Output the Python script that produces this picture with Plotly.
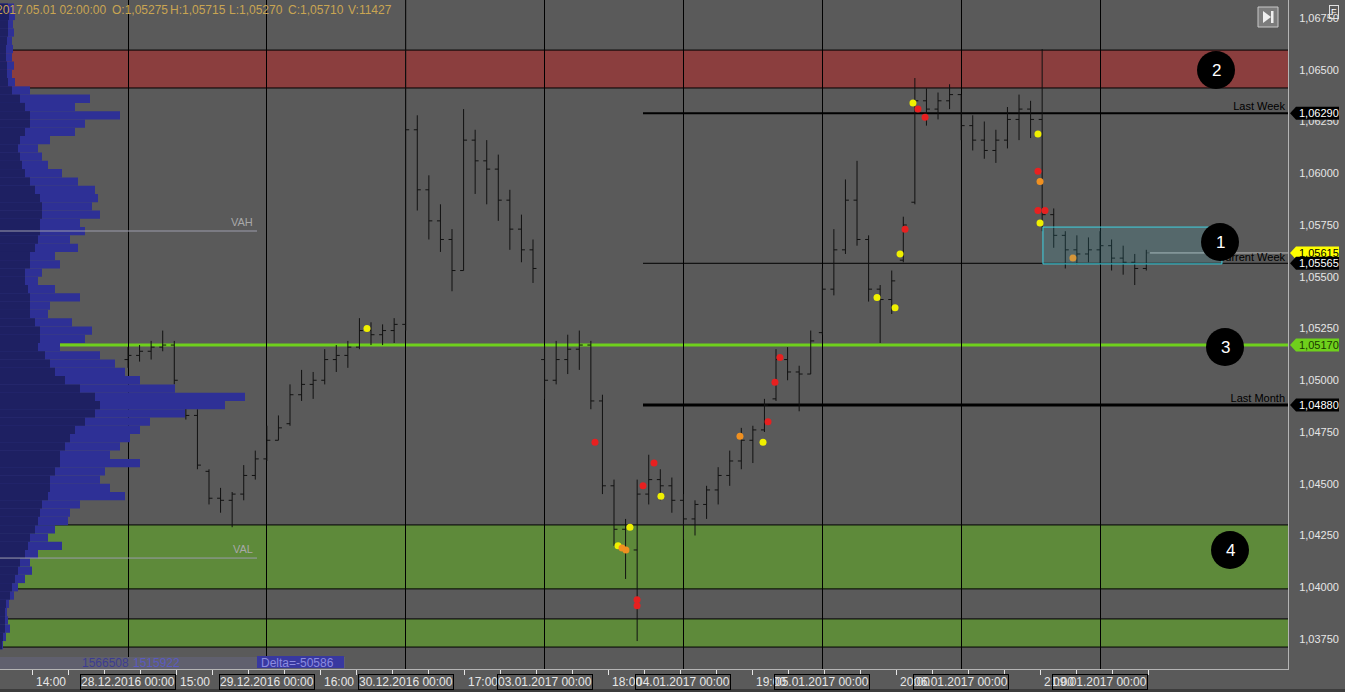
import plotly.graph_objects as go

# ---------------- data ----------------
day_labels = ["28.12.2016 00:00", "29.12.2016 00:00", "30.12.2016 00:00", "03.01.2017 00:00",
              "04.01.2017 00:00", "05.01.2017 00:00", "06.01.2017 00:00", "09.01.2017 00:00"]
hour_labels = ["14:00", "15:00", "16:00", "17:00", "18:00", "19:00", "20:00", "21:00"]

bar_open = [1.0510, 1.0512, 1.0514, 1.0516, 1.0517, 1.0490, 1.0483, 1.0456, 1.0443, 1.0442, 1.0445, 1.0454,
            1.0462, 1.0471, 1.0479, 1.0493, 1.0498, 1.0500, 1.0510, 1.0512, 1.0516, 1.0524, 1.0522, 1.0524,
            1.0527, 1.0621, 1.0592, 1.0577, 1.0568, 1.0553, 1.0616, 1.0606, 1.0602, 1.0587, 1.0573, 1.0563,
            1.0510, 1.0500, 1.0510, 1.0515, 1.0517, 1.0490, 1.0449, 1.0428, 1.0418, 1.0445, 1.0452, 1.0449,
            1.0442, 1.0433, 1.0440, 1.0447, 1.0454, 1.0461, 1.0471, 1.0476, 1.0491, 1.0510, 1.0504, 1.0503,
            1.0523, 1.0544, 1.0563, 1.0587, 1.0568, 1.0544, 1.0539, 1.0558, 1.0586, 1.0635, 1.0631, 1.0635,
            1.0638, 1.0623, 1.0616, 1.0611, 1.0616, 1.0626, 1.0631, 1.0626, 1.0580, 1.0570, 1.0563, 1.0561,
            1.0563, 1.0565, 1.0559, 1.0557, 1.0554]
bar_high = [1.0516, 1.0517, 1.0519, 1.0524, 1.0519, 1.0491, 1.0486, 1.0457, 1.0448, 1.0446, 1.0459, 1.0466,
            1.0478, 1.0483, 1.0498, 1.0505, 1.0504, 1.0515, 1.0517, 1.0519, 1.0530, 1.0528, 1.0527, 1.0530,
            1.0684, 1.0628, 1.0599, 1.0585, 1.0573, 1.0631, 1.0621, 1.0616, 1.0609, 1.0592, 1.0580, 1.0568,
            1.0517, 1.0519, 1.0522, 1.0524, 1.0519, 1.0493, 1.0452, 1.0433, 1.0452, 1.0464, 1.0457, 1.0453,
            1.0445, 1.0442, 1.0449, 1.0458, 1.0466, 1.0477, 1.0478, 1.0491, 1.0515, 1.0516, 1.0507, 1.0524,
            1.0554, 1.0573, 1.0597, 1.0606, 1.0570, 1.0546, 1.0553, 1.0579, 1.0646, 1.0641, 1.0639, 1.0643,
            1.0638, 1.0628, 1.0625, 1.0621, 1.0632, 1.0638, 1.0635, 1.0660, 1.0583, 1.0572, 1.0570, 1.0569,
            1.0572, 1.0568, 1.0565, 1.0561, 1.0563]
bar_low = [1.0506, 1.0509, 1.0510, 1.0514, 1.0498, 1.0481, 1.0457, 1.0440, 1.0436, 1.0429, 1.0442, 1.0452,
           1.0461, 1.0471, 1.0478, 1.0490, 1.0491, 1.0498, 1.0504, 1.0506, 1.0515, 1.0517, 1.0517, 1.0518,
           1.0524, 1.0582, 1.0568, 1.0562, 1.0543, 1.0553, 1.0590, 1.0585, 1.0577, 1.0563, 1.0557, 1.0547,
           1.0491, 1.0498, 1.0503, 1.0505, 1.0486, 1.0445, 1.0420, 1.0404, 1.0374, 1.0440, 1.0442, 1.0436,
           1.0423, 1.0425, 1.0433, 1.0440, 1.0449, 1.0457, 1.0460, 1.0475, 1.0490, 1.0500, 1.0485, 1.0503,
           1.0522, 1.0541, 1.0561, 1.0565, 1.0538, 1.0518, 1.0532, 1.0557, 1.0585, 1.0623, 1.0626, 1.0631,
           1.0616, 1.0611, 1.0607, 1.0605, 1.0612, 1.0616, 1.0617, 1.0572, 1.0564, 1.0554, 1.0556, 1.0557,
           1.0556, 1.0553, 1.0551, 1.0546, 1.0553]
bar_close = [1.0512, 1.0514, 1.0516, 1.0517, 1.0500, 1.0483, 1.0459, 1.0443, 1.0442, 1.0445, 1.0454, 1.0462,
             1.0471, 1.0477, 1.0493, 1.0498, 1.0500, 1.0510, 1.0512, 1.0516, 1.0524, 1.0522, 1.0524, 1.0527,
             1.0621, 1.0592, 1.0577, 1.0568, 1.0553, 1.0616, 1.0606, 1.0602, 1.0587, 1.0573, 1.0563, 1.0554,
             1.0500, 1.0510, 1.0515, 1.0517, 1.0490, 1.0449, 1.0428, 1.0418, 1.0445, 1.0452, 1.0449, 1.0442,
             1.0433, 1.0440, 1.0447, 1.0454, 1.0461, 1.0471, 1.0476, 1.0488, 1.0510, 1.0504, 1.0503, 1.0519,
             1.0544, 1.0563, 1.0587, 1.0568, 1.0544, 1.0539, 1.0548, 1.0575, 1.0635, 1.0631, 1.0635, 1.0638,
             1.0623, 1.0616, 1.0611, 1.0616, 1.0626, 1.0631, 1.0626, 1.0580, 1.0570, 1.0563, 1.0561, 1.0563,
             1.0565, 1.0559, 1.0557, 1.0554, 1.05615]
BARS_PER_DAY = 12
bar_x = [i / BARS_PER_DAY for i in range(len(bar_close))]

# footprint imbalance dots (day position, price, colour)
mk_day = [1.721, 3.363, 3.529, 3.558, 3.615, 3.586, 3.666, 3.666, 3.709, 3.788, 3.838, 4.407, 4.573, 4.609,
          4.659, 4.695, 5.394, 5.524, 5.560, 5.596, 5.653, 5.689, 5.740, 6.553, 6.553, 6.568, 6.553, 6.568,
          6.604, 6.805]
mk_price = [1.0525, 1.0470, 1.0420, 1.0419, 1.0429, 1.0418, 1.0394, 1.0391, 1.0449, 1.0460, 1.0444, 1.0473,
            1.0470, 1.0480, 1.0499, 1.0511, 1.0540, 1.0535, 1.0561, 1.0573, 1.0634, 1.0631, 1.0627, 1.0619,
            1.0601, 1.0596, 1.0582, 1.0576, 1.0582, 1.0559]
mk_kind = ["y", "r", "y", "o", "y", "o", "r", "r", "r", "r", "y", "o", "y", "r", "r", "r", "y", "y", "y", "r",
           "y", "r", "r", "y", "r", "o", "r", "y", "r", "o"]

# volume profile (price bins of 0.0004, widths in volume units)
profile_price = [round(1.0680 - 0.0004 * i, 4) for i in range(80)]
profile_total = [14, 15, 13, 14, 12, 13, 12, 14, 12, 15,
                 30, 90, 75, 120, 85, 75, 50, 38, 42, 48,
                 62, 78, 95, 98, 92, 100, 80, 85, 70, 78,
                 55, 60, 42, 38, 55, 80, 50, 48, 72, 92,
                 85, 60, 100, 115, 125, 140, 175, 245, 225, 185,
                 150, 140, 130, 120, 110, 140, 105, 100, 110, 125,
                 80, 70, 68, 55, 48, 62, 38, 30, 32, 25,
                 18, 14, 9, 7, 8, 10, 6, 3, 0, 0]
profile_inner = [8, 9, 8, 8, 7, 6, 6, 7, 7, 8,
                 12, 20, 25, 30, 30, 25, 20, 18, 20, 22,
                 25, 30, 35, 40, 42, 42, 40, 40, 38, 35,
                 30, 30, 25, 25, 28, 30, 30, 30, 35, 40,
                 40, 38, 45, 50, 55, 65, 80, 95, 100, 95,
                 85, 75, 70, 65, 60, 60, 55, 50, 50, 48,
                 42, 40, 38, 35, 30, 28, 25, 20, 18, 15,
                 12, 10, 6, 5, 5, 5, 3, 2, 0, 0]

# key levels
last_week = 1.06290
current_week = 1.05565
last_month = 1.04880
poc_level = 1.05170
last_price = 1.05615
vah = 1.05721
val = 1.04141
red_zone = (1.06412, 1.06595)
green_zone = (1.03992, 1.04301)
green_zone2 = (1.03711, 1.03847)
week_box = (6.589, 7.878, 1.05562, 1.05740)
header = [("2017.05.01 02:00:00", -6), ("O:1,05275", 110), ("H:1,05715", 168),
          ("L:1,05270", 227), ("C:1,05710", 286), ("V:11427", 346)]

# ---------------- geometry ----------------
W, H = 1345, 692
PW, PH = 1288, 669          # plot area in px
PX_DAY = 138.86
X0_PX = 128
XMIN = -X0_PX / PX_DAY
XMAX = (PW - X0_PX) / PX_DAY
YMAX = 1.06837
YMIN = 1.03605
FONT = "Liberation Sans, Arial, sans-serif"
BG = "#5a5a5a"


def xp(px):
    return px / PW


def ypp(py):
    return 1 - py / PH


def yprice(p):
    return (p - YMIN) / (YMAX - YMIN)


def day(px):
    return (px - X0_PX) / PX_DAY


fig = go.Figure()

# volume profile (overlay axis so bar lengths map to pixels)
fig.add_trace(go.Bar(y=profile_price, x=profile_total, orientation="h", width=0.0004,
                     marker=dict(color="#2e3096", line=dict(width=0)), xaxis="x2", yaxis="y",
                     hoverinfo="skip"))
fig.add_trace(go.Bar(y=profile_price, x=profile_inner, orientation="h", width=0.0004,
                     marker=dict(color="#1e2062", line=dict(width=0)), xaxis="x2", yaxis="y",
                     hoverinfo="skip"))

fig.add_trace(go.Ohlc(x=bar_x, open=bar_open, high=bar_high, low=bar_low, close=bar_close,
                      increasing=dict(line=dict(color="#111111", width=1)),
                      decreasing=dict(line=dict(color="#111111", width=1)),
                      tickwidth=0.3, hoverinfo="skip"))

cmap = {"y": "#f0f000", "o": "#f09020", "r": "#e82020"}
fig.add_trace(go.Scatter(x=mk_day, y=mk_price, mode="markers",
                         marker=dict(size=7, color=[cmap[k] for k in mk_kind], line=dict(width=0)),
                         hoverinfo="skip"))

# level labels as text traces (so circle shapes can cover them)
lbl_x = day(1285)
fig.add_trace(go.Scatter(x=[lbl_x, lbl_x, lbl_x], y=[last_week, current_week, last_month],
                         mode="text", text=["Last Week", "Current Week", "Last Month"],
                         textposition="top left", textfont=dict(family=FONT, size=11, color="#000000"),
                         hoverinfo="skip", cliponaxis=False))

shapes = []
# zones (below grid)
for (lo, hi), col in [(red_zone, "#8b3e3e"), (green_zone, "#5e8a3a"), (green_zone2, "#5e8a3a")]:
    shapes.append(dict(type="rect", xref="paper", yref="y", x0=0, x1=1, y0=lo, y1=hi,
                       fillcolor=col, line=dict(width=0), layer="below"))
    for v in (lo, hi):
        shapes.append(dict(type="line", xref="paper", yref="y", x0=0, x1=1, y0=v, y1=v,
                           line=dict(color="#000000", width=1), layer="between"))

# level lines
start = day(643)
shapes.append(dict(type="line", xref="x", yref="y", x0=start, x1=XMAX, y0=last_week, y1=last_week,
                   line=dict(color="#000000", width=2), layer="between"))
shapes.append(dict(type="line", xref="x", yref="y", x0=start, x1=XMAX, y0=current_week, y1=current_week,
                   line=dict(color="#000000", width=1), layer="between"))
shapes.append(dict(type="line", xref="x", yref="y", x0=start, x1=XMAX, y0=last_month, y1=last_month,
                   line=dict(color="#000000", width=3), layer="between"))
shapes.append(dict(type="line", xref="paper", yref="y", x0=0, x1=1, y0=poc_level, y1=poc_level,
                   line=dict(color="#6fd01c", width=3), layer="between"))
shapes.append(dict(type="line", xref="x", yref="y", x0=bar_x[-1], x1=XMAX, y0=last_price, y1=last_price,
                   line=dict(color="#b8b8b8", width=1), layer="between"))
# VAH / VAL
for v in (vah, val):
    shapes.append(dict(type="line", xref="paper", yref="y", x0=0, x1=xp(257), y0=v, y1=v,
                       line=dict(color="#9c9cac", width=1), layer="above"))
# current week box
shapes.append(dict(type="rect", xref="x", yref="y", x0=week_box[0], x1=week_box[1],
                   y0=week_box[2], y1=week_box[3], fillcolor="rgba(60,190,215,0.14)",
                   line=dict(color="#3fd3e3", width=1), layer="above"))

annotations = []
# numbered circles
for num, cx, cy in [("2", 1216, 70), ("1", 1220, 242), ("3", 1225, 347), ("4", 1230, 550)]:
    shapes.append(dict(type="circle", xref="paper", yref="paper", xsizemode="pixel", ysizemode="pixel",
                       xanchor=xp(cx), yanchor=ypp(cy), x0=-19, x1=19, y0=-19, y1=19,
                       fillcolor="#000000", line=dict(width=0), layer="above"))
    annotations.append(dict(xref="paper", yref="paper", x=xp(cx), y=ypp(cy), text=num, showarrow=False,
                            font=dict(family=FONT, size=17, color="#ffffff"), xanchor="center",
                            yanchor="middle"))


# price tags on the right axis
def tag(price, fill, tcolor):
    yc = yprice(price)
    h = 6.5 / PH
    xt, xl, xr = 1290 / PW, 1296 / PW, 1339 / PW
    shapes.append(dict(type="path", xref="paper", yref="paper",
                       path=f"M {xt},{yc} L {xl},{yc + h} L {xr},{yc + h} L {xr},{yc - h} L {xl},{yc - h} Z",
                       fillcolor=fill, line=dict(width=0), layer="above"))
    annotations.append(dict(xref="paper", yref="paper", x=1297 / PW, y=yc, xanchor="left", yanchor="middle",
                            text=f"{price:.5f}".replace(".", ","), showarrow=False,
                            font=dict(family=FONT, size=11, color=tcolor)))


tag(last_week, "#000000", "#ffffff")
tag(last_price, "#ffff00", "#000000")
tag(current_week, "#000000", "#ffffff")
tag(poc_level, "#6fd01c", "#1a3a00")
tag(last_month, "#000000", "#ffffff")

# VAH / VAL labels
annotations.append(dict(xref="paper", yref="y", x=xp(255), y=vah, yshift=9, text="VAH", showarrow=False,
                        xanchor="right", yanchor="middle", font=dict(family=FONT, size=11, color="#a8a8a8")))
annotations.append(dict(xref="paper", yref="y", x=xp(255), y=val, yshift=9, text="VAL", showarrow=False,
                        xanchor="right", yanchor="middle", font=dict(family=FONT, size=11, color="#a8a8a8")))

# header
for txt, px in header:
    annotations.append(dict(xref="paper", yref="paper", x=xp(px), y=ypp(10), text=txt, showarrow=False,
                            xanchor="left", yanchor="middle", font=dict(family=FONT, size=12, color="#c9a552")))

# bottom strip with volume numbers
shapes.append(dict(type="rect", xref="paper", yref="paper", x0=0, x1=xp(345), y0=0, y1=ypp(657),
                   fillcolor="#60606e", line=dict(width=0), layer="above"))
shapes.append(dict(type="rect", xref="paper", yref="paper", x0=xp(257), x1=xp(344), y0=ypp(668), y1=ypp(656),
                   fillcolor="#3838a0", line=dict(width=0), layer="above"))
annotations.append(dict(xref="paper", yref="paper", x=xp(80), y=ypp(663), text="1566508", showarrow=False,
                        xanchor="left", yanchor="middle", font=dict(family=FONT, size=12, color="#3c3c92")))
annotations.append(dict(xref="paper", yref="paper", x=xp(131), y=ypp(663), text="1515922", showarrow=False,
                        xanchor="left", yanchor="middle", font=dict(family=FONT, size=12, color="#5a5ac0")))
annotations.append(dict(xref="paper", yref="paper", x=xp(259), y=ypp(663), text="Delta=-50586", showarrow=False,
                        xanchor="left", yanchor="middle", font=dict(family=FONT, size=12, color="#8c8ce0")))

# bottom dark band
shapes.append(dict(type="rect", xref="paper", yref="paper", x0=-0.01, x1=W / PW + 0.01, y0=ypp(689),
                   y1=ypp(694), fillcolor="#3c3c3c", line=dict(width=0), layer="above"))

# hour ticks and labels
hour_ticks = [day(32 + 36 * k) for k in range(32)]
for i, lab in enumerate(hour_labels):
    annotations.append(dict(xref="x", yref="paper", x=hour_ticks[1 + 4 * i], y=ypp(682), text=lab,
                            showarrow=False, xanchor="right", yanchor="middle",
                            font=dict(family=FONT, size=12, color="#e6e6e6")))
# day boxes
for d, lab in enumerate(day_labels):
    annotations.append(dict(xref="x", yref="paper", x=d, y=ypp(682), text=lab, showarrow=False,
                            xanchor="center", yanchor="middle", bordercolor="#000000", borderwidth=1,
                            borderpad=0, font=dict(family=FONT, size=12, color="#e6e6e6")))

# top-right icons
shapes.append(dict(type="rect", xref="paper", yref="paper", x0=xp(1258), x1=xp(1278), y0=ypp(27), y1=ypp(7),
                   fillcolor="#7c7c7c", line=dict(color="#c8c8c8", width=1), layer="above"))
shapes.append(dict(type="path", xref="paper", yref="paper",
                   path=f"M {xp(1263)},{ypp(11)} L {xp(1271)},{ypp(17)} L {xp(1263)},{ypp(23)} Z",
                   fillcolor="#f0f0f0", line=dict(width=0), layer="above"))
shapes.append(dict(type="rect", xref="paper", yref="paper", x0=xp(1271), x1=xp(1273.5), y0=ypp(23), y1=ypp(11),
                   fillcolor="#f0f0f0", line=dict(width=0), layer="above"))
annotations.append(dict(xref="paper", yref="paper", x=xp(1334), y=ypp(12), text="F", showarrow=False,
                        xanchor="center", yanchor="middle", bordercolor="#e0e0e0", borderwidth=1, borderpad=1,
                        font=dict(family=FONT, size=9, color="#ffffff")))

fig.update_layout(
    width=W, height=H,
    margin=dict(l=0, r=W - PW, t=0, b=H - PH),
    paper_bgcolor=BG, plot_bgcolor=BG,
    showlegend=False, barmode="overlay", separators=", ",
    hovermode=False,
    xaxis=dict(range=[XMIN, XMAX], tickmode="array", tickvals=list(range(len(day_labels))),
               showticklabels=False, ticks="", showgrid=True, gridcolor="#000000", gridwidth=1,
               zeroline=False, showline=True, linecolor="#b4b4b4", linewidth=1,
               rangeslider=dict(visible=False),
               minor=dict(tickmode="array", tickvals=hour_ticks, ticks="outside", ticklen=5,
                          tickcolor="#e6e6e6", tickwidth=1, showgrid=False)),
    xaxis2=dict(range=[0, PW], overlaying="x", visible=False, anchor="y"),
    yaxis=dict(range=[YMIN, YMAX], side="right", tick0=1.0375, dtick=0.0025, tickformat=".5f",
               showgrid=False, zeroline=False, showline=True, linecolor="#b4b4b4", linewidth=1,
               ticks="", ticklabelstandoff=8,
               tickfont=dict(family=FONT, size=11, color="#e6e6e6")),
    shapes=shapes, annotations=annotations,
)

fig.write_html("out.html", config={"displayModeBar": False},
               post_script="document.body.style.margin='0';document.body.style.background='#5a5a5a';")
